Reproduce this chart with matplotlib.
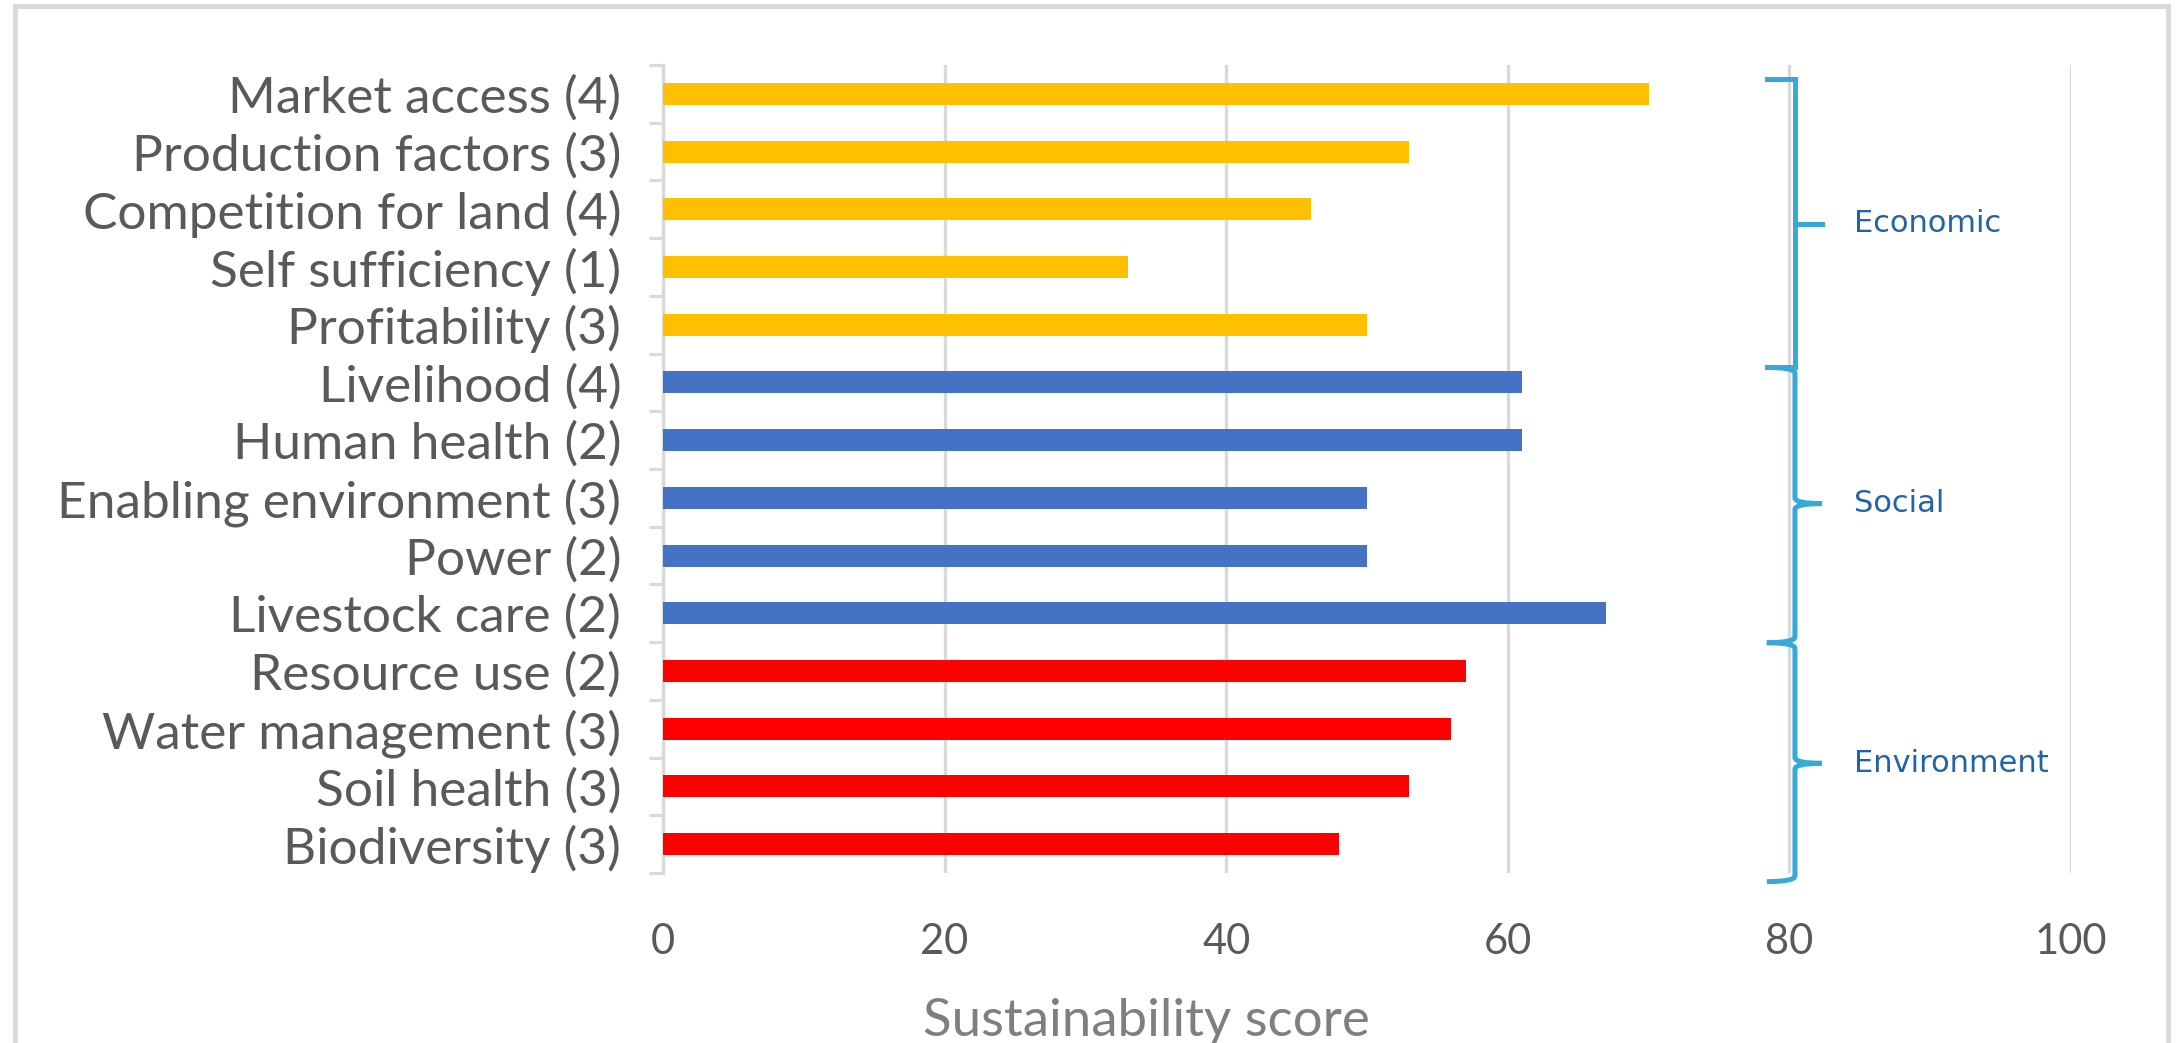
import matplotlib
matplotlib.use("Agg")
import matplotlib.pyplot as plt
from matplotlib.path import Path
from matplotlib.patches import PathPatch, Rectangle

# data
categories = [
    "Market access (4)", "Production factors (3)", "Competition for land (4)",
    "Self sufficiency (1)", "Profitability (3)",
    "Livelihood (4)", "Human health (2)", "Enabling environment (3)",
    "Power (2)", "Livestock care (2)",
    "Resource use (2)", "Water management (3)", "Soil health (3)", "Biodiversity (3)",
]
scores = [70, 53, 46, 33, 50, 61, 61, 50, 50, 67, 57, 56, 53, 48]
groups = ["Economic"] * 5 + ["Social"] * 5 + ["Environment"] * 4
group_colors = {"Economic": "#FFC000", "Social": "#4472C4", "Environment": "#FF0000"}
group_names = ["Economic", "Social", "Environment"]
x_ticks = [0, 20, 40, 60, 80, 100]

# brace layout (top, bottom, tip) in category units
brace_spans = [(-0.26, 4.74, 2.25), (4.74, 9.51, 7.1), (9.51, 13.65, 11.6)]

GRID = "#d9d9d9"
TXT = "#595959"
BRACE = "#36a9d6"

plt.rcParams["font.family"] = ["Lato", "DejaVu Sans"]

fig = plt.figure(figsize=(21.76, 10.43), dpi=100)
ax = fig.add_axes([0.3047, 0.163, 0.6470, 0.7747])

ypos = list(range(len(categories)))
colors = [group_colors[g] for g in groups]
ax.barh(ypos, scores, height=0.38, color=colors, zorder=3)

ax.set_xlim(0, 100)
ax.set_ylim(len(categories) - 0.5, -0.5)
ax.set_xticks(x_ticks)
ax.set_xticklabels([str(t) for t in x_ticks])
ax.set_yticks(ypos)
ax.set_yticklabels(categories)
ax.set_yticks([i - 0.5 for i in range(len(categories) + 1)], minor=True)

ax.grid(axis="x", color=GRID, linewidth=2.4, zorder=0)
for s in ["top", "right", "bottom"]:
    ax.spines[s].set_visible(False)
ax.spines["left"].set_color(GRID)
ax.spines["left"].set_linewidth(2.4)

ax.tick_params(axis="x", length=0, pad=36, labelsize=30, labelcolor=TXT)
ax.tick_params(axis="y", which="major", length=0, pad=30, labelsize=37, labelcolor=TXT)
ax.tick_params(axis="y", which="minor", length=10, width=2.2, color=GRID)

ax.set_xlabel("Sustainability score", fontsize=38, color="#7f7f7f", labelpad=24)
ax.xaxis.set_label_coords(0.343, -0.155)

# curly braces for groups
xs, xl, xt, d = 80.4, 78.4, 82.3, 0.1
for i, ((y0, y1, ym), name) in enumerate(zip(brace_spans, group_names)):
    if i == 0:
        # first one has square corners and a plain T in the middle
        ax.plot([xl, xs, xs, xs], [y0, y0, y1, y1], color=BRACE, lw=3.6,
                clip_on=False, zorder=4, solid_joinstyle="miter")
        ax.plot([xs, xt], [ym, ym], color=BRACE, lw=3.6, clip_on=False, zorder=4)
        ax.plot([xl, xs], [y1, y1], color=BRACE, lw=3.6, clip_on=False, zorder=4)
    else:
        verts = [(xl, y0), (xs, y0), (xs, y0 + d),
                 (xs, ym - d), (xs, ym), (xt, ym),
                 (xs, ym), (xs, ym + d),
                 (xs, y1 - d), (xs, y1), (xl, y1)]
        codes = [Path.MOVETO, Path.CURVE3, Path.CURVE3,
                 Path.LINETO, Path.CURVE3, Path.CURVE3,
                 Path.CURVE3, Path.CURVE3,
                 Path.LINETO, Path.CURVE3, Path.CURVE3]
        ax.add_patch(PathPatch(Path(verts, codes), fill=False, edgecolor=BRACE,
                               linewidth=3.6, clip_on=False, zorder=4))
    ax.text(84.6, ym, name, ha="left", va="center", fontsize=22,
            color="#1f64aa", family=["DejaVu Sans"])

# chart border
fig.patches.append(Rectangle((15 / 2176, -0.05), 2153 / 2176, 1.05 - 6 / 1043,
                             transform=fig.transFigure, fill=False,
                             edgecolor=GRID, linewidth=3.5))

fig.savefig("out.png", dpi=100)
